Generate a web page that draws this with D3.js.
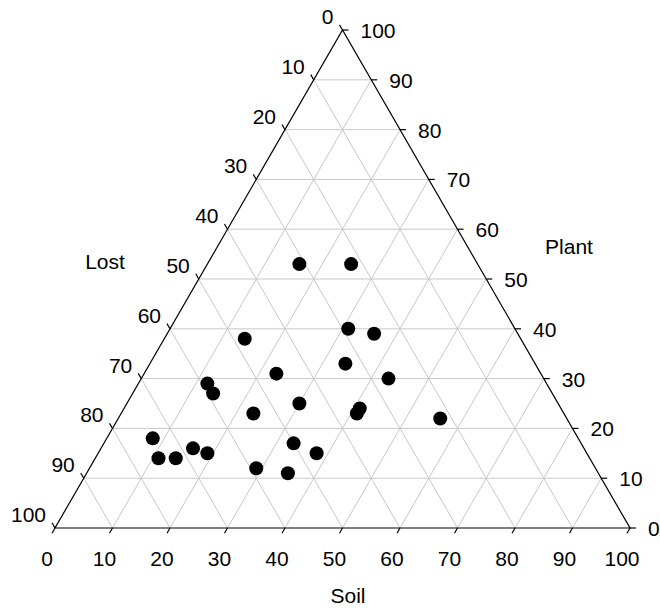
<!DOCTYPE html>
<html>
  <head>
    <meta charset="utf-8">
    <title>Ternary plot: Soil / Plant / Lost</title>
    <script src="https://d3js.org/d3.v7.min.js"></script>
    <style>
      body { margin: 0; background: #fff; }
      text { font-family: "Liberation Sans", Arial, sans-serif; font-size: 21px; fill: #000; }
    </style>
  </head>
  <body>

  <div id="chart"></div>

  <script>

  // ternary data, each row sums to 100
  var soil  = [16, 25, 31, 36, 14, 34, 23, 43, 12, 14, 30, 41, 41, 23, 56,  8, 16, 19, 33, 38, 11, 14, 29, 35];
  var plant = [53, 53, 40, 39, 38, 33, 31, 30, 29, 27, 25, 24, 23, 23, 22, 18, 16, 15, 17, 15, 14, 14, 12, 11];
  var lost  = [31, 22, 29, 25, 48, 33, 46, 27, 59, 59, 45, 35, 36, 54, 22, 74, 68, 66, 50, 47, 75, 72, 59, 54];
  var ticks = [0, 10, 20, 30, 40, 50, 60, 70, 80, 90, 100];
  var titles = { soil: "Soil", plant: "Plant", lost: "Lost" };

  var width = 660, height = 609;
  var xLeft = 55, xRight = 630, yBase = 528;
  var side = xRight - xLeft, yApex = yBase - side * Math.sqrt(3) / 2;

  var svg = d3.select("#chart").append("svg")
      .attr("width", width)
      .attr("height", height);

  // x runs along the soil axis, y along the plant axis
  var x = d3.scaleLinear().domain([0, 100]).range([xLeft, xRight]);
  var y = d3.scaleLinear().domain([0, 100]).range([yBase, yApex]);

  function pos(s, p){ return [x(s + p / 2), y(p)]; }

  var line = d3.line();
  var inner = ticks.slice(1, -1);

  // grid
  var grid = svg.append("g").attr("stroke", "#c8c8c8").attr("stroke-width", 1).attr("fill", "none");
  inner.forEach(function(v){
      grid.append("path").attr("d", line([pos(0, v), pos(100 - v, v)]));       // plant
      grid.append("path").attr("d", line([pos(v, 0), pos(v, 100 - v)]));       // soil
      grid.append("path").attr("d", line([pos(100 - v, 0), pos(0, 100 - v)]));  // lost
  });

  // frame
  svg.append("path")
      .attr("d", line([pos(0, 0), pos(100, 0), pos(0, 100)]) + "Z")
      .attr("fill", "none")
      .attr("stroke", "#000")
      .attr("stroke-width", 1.2);

  var tl = 6, c = 0.5, s3 = Math.sqrt(3) / 2;
  var axes = svg.append("g").attr("stroke", "#000").attr("stroke-width", 1.2);

  // soil ticks (bottom)
  ticks.forEach(function(v){
      var p = pos(v, 0);
      axes.append("path").attr("d", line([p, [p[0] - c * tl, p[1] + s3 * tl]]));
      svg.append("text").attr("x", p[0] - 8).attr("y", p[1] + 38)
         .attr("text-anchor", "middle").text(v);
  });

  // lost ticks (left side, 0 at top)
  ticks.forEach(function(v){
      var p = pos(0, 100 - v);
      axes.append("path").attr("d", line([p, [p[0] - c * tl, p[1] - s3 * tl]]));
      svg.append("text").attr("x", p[0] - 9).attr("y", p[1] - 6)
         .attr("text-anchor", "end").text(v);
  });

  // plant ticks (right side, 0 at bottom)
  ticks.forEach(function(v){
      var p = pos(100 - v, v);
      axes.append("path").attr("d", line([p, [p[0] + tl, p[1]]]));
      svg.append("text").attr("x", p[0] + 18).attr("y", p[1] + 8)
         .attr("text-anchor", "start").text(v);
  });

  // axis titles
  svg.append("text").attr("x", 348).attr("y", 603).attr("text-anchor", "middle").text(titles.soil);
  svg.append("text").attr("x", 569).attr("y", 254).attr("text-anchor", "middle").text(titles.plant);
  svg.append("text").attr("x", 105).attr("y", 269).attr("text-anchor", "middle").text(titles.lost);

  // points
  svg.selectAll(".dot")
      .data(soil.map(function(d_, i_){ return { s: d_, p: plant[i_], l: lost[i_] }; }))
      .enter()
      .append("circle")
      .attr("class", "dot")
      .attr("cx", function(d_){ return pos(d_.s, d_.p)[0]; })
      .attr("cy", function(d_){ return pos(d_.s, d_.p)[1]; })
      .attr("r", 7)
      .attr("fill", "#000");

  </script>

  </body>
</html>
